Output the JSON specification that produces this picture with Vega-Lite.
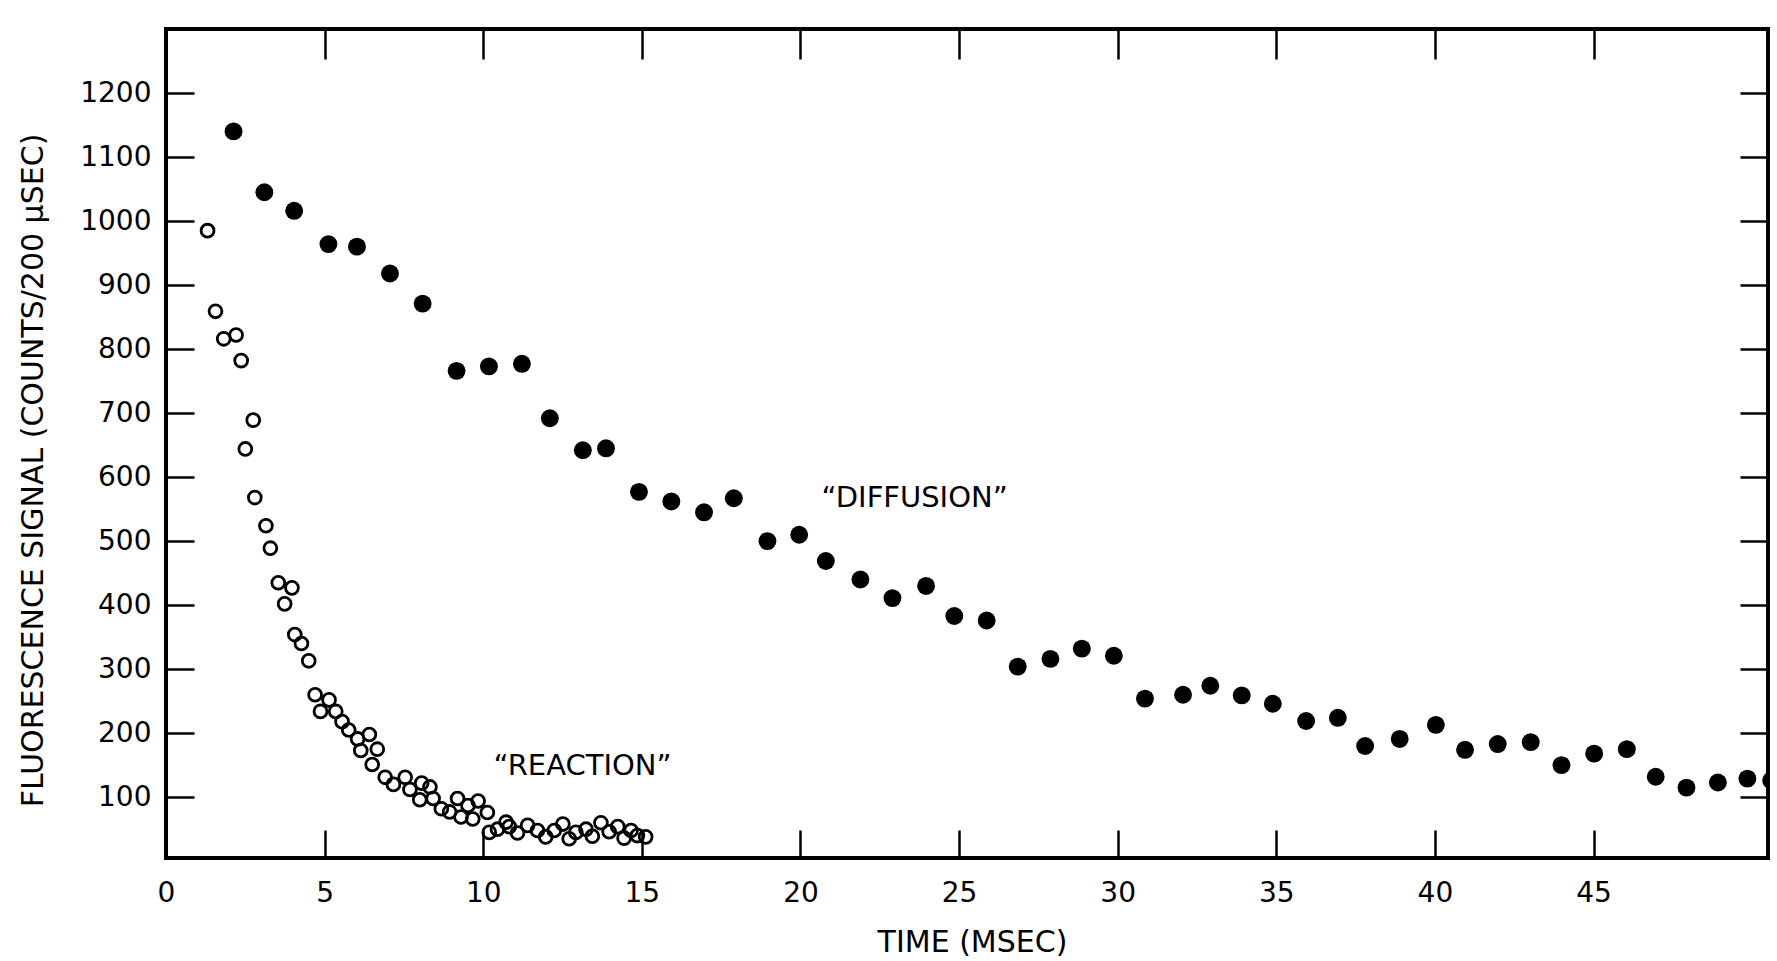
{
  "$schema": "https://vega.github.io/schema/vega-lite/v6.json",
  "width": 1602,
  "height": 829,
  "autosize": {"type": "none"},
  "padding": {"left": 166, "top": 29, "right": 9, "bottom": 103},
  "background": "white",
  "config": {
    "view": {"stroke": "black", "strokeWidth": 4},
    "font": "DejaVu Sans",
    "axis": {"labelFont": "DejaVu Sans", "titleFont": "DejaVu Sans", "labelColor": "black", "titleColor": "black", "tickColor": "black", "grid": false, "domain": false, "titleFontWeight": "normal"}
  },
  "datasets": {
    "diffusion": [
      {"t": 2.13, "signal": 1140}, {"t": 3.10, "signal": 1045}, {"t": 4.04, "signal": 1016},
      {"t": 5.12, "signal": 964}, {"t": 6.02, "signal": 960}, {"t": 7.06, "signal": 918},
      {"t": 8.09, "signal": 871}, {"t": 9.16, "signal": 766}, {"t": 10.18, "signal": 773},
      {"t": 11.22, "signal": 777}, {"t": 12.1, "signal": 692}, {"t": 13.14, "signal": 642},
      {"t": 13.87, "signal": 645}, {"t": 14.91, "signal": 577}, {"t": 15.93, "signal": 562},
      {"t": 16.96, "signal": 545}, {"t": 17.9, "signal": 567}, {"t": 18.96, "signal": 500},
      {"t": 19.96, "signal": 510}, {"t": 20.8, "signal": 469}, {"t": 21.89, "signal": 440},
      {"t": 22.9, "signal": 411}, {"t": 23.96, "signal": 430}, {"t": 24.85, "signal": 383},
      {"t": 25.87, "signal": 376}, {"t": 26.85, "signal": 304}, {"t": 27.88, "signal": 316},
      {"t": 28.87, "signal": 332}, {"t": 29.88, "signal": 321}, {"t": 30.86, "signal": 254},
      {"t": 32.06, "signal": 260}, {"t": 32.92, "signal": 274}, {"t": 33.91, "signal": 259},
      {"t": 34.89, "signal": 246}, {"t": 35.94, "signal": 219}, {"t": 36.94, "signal": 224},
      {"t": 37.8, "signal": 180}, {"t": 38.89, "signal": 191}, {"t": 40.03, "signal": 213},
      {"t": 40.95, "signal": 174}, {"t": 41.98, "signal": 183}, {"t": 43.02, "signal": 186},
      {"t": 43.99, "signal": 150}, {"t": 45.02, "signal": 168}, {"t": 46.05, "signal": 175},
      {"t": 46.96, "signal": 132}, {"t": 47.93, "signal": 115}, {"t": 48.92, "signal": 123},
      {"t": 49.85, "signal": 129}, {"t": 50.6, "signal": 126}
    ],
    "reaction": [
      {"t": 1.31, "signal": 985}, {"t": 1.56, "signal": 859}, {"t": 1.82, "signal": 816},
      {"t": 2.21, "signal": 822}, {"t": 2.37, "signal": 782}, {"t": 2.5, "signal": 644},
      {"t": 2.75, "signal": 689}, {"t": 2.8, "signal": 568}, {"t": 3.15, "signal": 524},
      {"t": 3.29, "signal": 489}, {"t": 3.54, "signal": 435}, {"t": 3.97, "signal": 427},
      {"t": 3.74, "signal": 402}, {"t": 4.06, "signal": 354}, {"t": 4.27, "signal": 340},
      {"t": 4.5, "signal": 313}, {"t": 4.70, "signal": 260}, {"t": 5.14, "signal": 252},
      {"t": 4.87, "signal": 234}, {"t": 5.35, "signal": 234}, {"t": 5.55, "signal": 218},
      {"t": 5.76, "signal": 205}, {"t": 6.04, "signal": 191}, {"t": 6.41, "signal": 198},
      {"t": 6.14, "signal": 173}, {"t": 6.66, "signal": 175}, {"t": 6.5, "signal": 151},
      {"t": 6.91, "signal": 131}, {"t": 7.54, "signal": 131}, {"t": 7.17, "signal": 120},
      {"t": 7.69, "signal": 112}, {"t": 8.06, "signal": 122}, {"t": 8.32, "signal": 116},
      {"t": 8.0, "signal": 96}, {"t": 8.42, "signal": 98}, {"t": 8.68, "signal": 82},
      {"t": 9.19, "signal": 98}, {"t": 8.94, "signal": 77}, {"t": 9.52, "signal": 87},
      {"t": 9.84, "signal": 94}, {"t": 9.3, "signal": 69}, {"t": 9.67, "signal": 66},
      {"t": 10.13, "signal": 76}, {"t": 10.72, "signal": 61}, {"t": 10.19, "signal": 45},
      {"t": 10.45, "signal": 50}, {"t": 10.82, "signal": 54}, {"t": 11.08, "signal": 44},
      {"t": 11.4, "signal": 56}, {"t": 11.71, "signal": 48}, {"t": 11.97, "signal": 38},
      {"t": 12.24, "signal": 48}, {"t": 12.51, "signal": 58}, {"t": 12.71, "signal": 35},
      {"t": 12.92, "signal": 45}, {"t": 13.24, "signal": 50}, {"t": 13.44, "signal": 39},
      {"t": 13.71, "signal": 60}, {"t": 13.97, "signal": 46}, {"t": 14.24, "signal": 54},
      {"t": 14.44, "signal": 36}, {"t": 14.66, "signal": 48}, {"t": 14.86, "signal": 40},
      {"t": 15.12, "signal": 38}
    ],
    "notes": [
      {"t": 23.6, "signal": 567, "label": "\u201cDIFFUSION\u201d"},
      {"t": 13.13, "signal": 148, "label": "\u201cREACTION\u201d"}
    ]
  },
  "layer": [
    {
      "data": {"name": "diffusion"},
      "mark": {"type": "circle", "color": "black", "size": 320, "opacity": 1, "clip": true},
      "encoding": {
        "x": {
          "field": "t", "type": "quantitative",
          "scale": {"domain": [0, 50.5], "nice": false, "zero": false},
          "axis": {
            "orient": "bottom",
            "values": [0, 5, 10, 15, 20, 25, 30, 35, 40, 45],
            "format": "d",
            "tickSize": -28, "tickWidth": 2.5,
            "labelFontSize": 28, "labelPadding": 49, "labelFlush": false,
            "title": "TIME (MSEC)", "titleFontSize": 30,
            "titleX": 806, "titleY": 84, "titleAlign": "center", "titleBaseline": "middle", "titleAnchor": null
          }
        },
        "y": {
          "field": "signal", "type": "quantitative",
          "scale": {"domain": [5, 1300], "nice": false, "zero": false},
          "axis": {
            "orient": "left",
            "values": [100, 200, 300, 400, 500, 600, 700, 800, 900, 1000, 1100, 1200],
            "format": "d",
            "tickSize": -28, "tickWidth": 2.5,
            "labelFontSize": 28, "labelPadding": 43, "labelFlush": false,
            "title": "FLUORESCENCE SIGNAL (COUNTS/200 \u03bcSEC)", "titleFontSize": 30,
            "titleX": -133, "titleY": 441, "titleAngle": 270, "titleAlign": "center", "titleBaseline": "middle"
          }
        }
      }
    },
    {
      "data": {"name": "reaction"},
      "mark": {"type": "point", "shape": "circle", "filled": false, "color": "black", "strokeWidth": 2.8, "size": 165, "opacity": 1},
      "encoding": {
        "x": {
          "field": "t", "type": "quantitative",
          "scale": {"domain": [0, 50.5], "nice": false, "zero": false},
          "axis": {"orient": "top", "values": [5, 10, 15, 20, 25, 30, 35, 40, 45], "tickSize": -30, "tickWidth": 2.5, "labels": false, "title": null}
        },
        "y": {
          "field": "signal", "type": "quantitative",
          "scale": {"domain": [5, 1300], "nice": false, "zero": false},
          "axis": {"orient": "right", "values": [100, 200, 300, 400, 500, 600, 700, 800, 900, 1000, 1100, 1200], "tickSize": -28, "tickWidth": 2.5, "labels": false, "title": null}
        }
      }
    },
    {
      "data": {"name": "notes"},
      "mark": {"type": "text", "font": "DejaVu Sans", "fontSize": 29, "color": "black", "align": "center", "baseline": "middle"},
      "encoding": {
        "x": {"field": "t", "type": "quantitative", "axis": null},
        "y": {"field": "signal", "type": "quantitative", "axis": null},
        "text": {"field": "label"}
      }
    }
  ],
  "resolve": {"axis": {"x": "independent", "y": "independent"}}
}
